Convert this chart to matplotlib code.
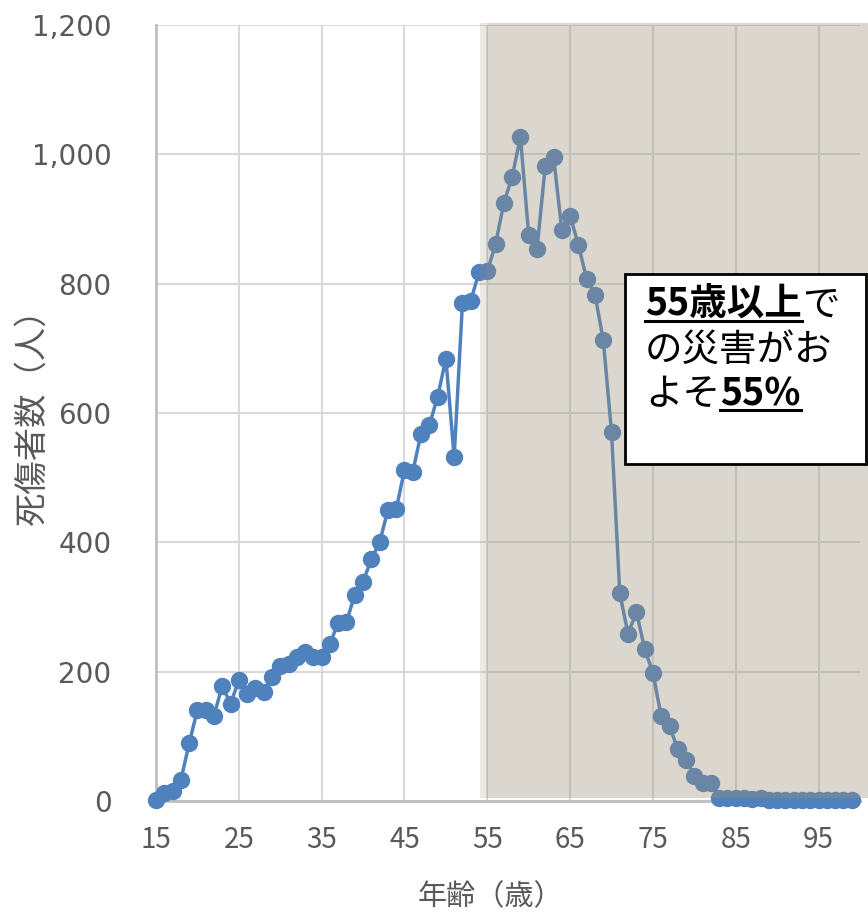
import matplotlib
matplotlib.use('agg')

import matplotlib.pyplot as plt
import matplotlib.patches as mpatches
from matplotlib.lines import Line2D
import numpy as np

plt.rcParams['font.family'] = ['Noto Sans CJK JP', 'DejaVu Sans']

# data: casualties by age (15..99)
ages = np.arange(15, 100)
casualties = [
    2, 12, 16, 32, 89, 141, 140, 132, 178, 150,
    187, 165, 174, 169, 191, 208, 212, 223, 231, 222,
    222, 243, 276, 277, 319, 339, 374, 400, 450, 451,
    512, 509, 568, 581, 625, 684, 532, 770, 773, 818,
    819, 861, 925, 965, 1027, 875, 853, 982, 996, 883,
    905, 860, 807, 783, 713, 570, 321, 258, 293, 235,
    198, 131, 116, 80, 63, 39, 28, 28, 5, 5,
    5, 4, 3, 4, 2, 2, 2, 1, 1, 1,
    1, 1, 1, 1, 1,
]
xticks = [15, 25, 35, 45, 55, 65, 75, 85, 95]
yticks = [0, 200, 400, 600, 800, 1000, 1200]

W, H = 868, 918
fig = plt.figure(figsize=(W / 100, H / 100), dpi=100)
ax = fig.add_axes([156 / W, (H - 801) / H, (860 - 156) / W, (801 - 25) / H])

ax.plot(ages, casualties, color='#4f81bd', linewidth=2.5, marker='o',
        markersize=11.5, zorder=3, clip_on=False)

ax.set_xlim(15, 100)
ax.set_ylim(0, 1200)
ax.set_xticks(xticks)
ax.set_yticks(yticks)
ax.set_yticklabels([f"{v:,}" for v in yticks], family='DejaVu Sans')
ax.tick_params(axis='y', length=0, pad=32, labelsize=20, labelcolor='#595959')
ax.tick_params(axis='x', length=0, pad=17, labelsize=20, labelcolor='#595959')

ax.grid(True, color='#d9d9d9', linewidth=1.5)
ax.set_axisbelow(True)
for side in ['top', 'right']:
    ax.spines[side].set_visible(False)
for side in ['left', 'bottom']:
    ax.spines[side].set_color('#bfbfbf')
    ax.spines[side].set_linewidth(2)

fig.text(32 / W, 1 - 409 / H, "死傷者数（人）", rotation=90, ha='center', va='center',
         fontsize=24, color='#595959')
fig.text(490 / W, 1 - 897 / H, "年齢（歳）", ha='center', va='center',
         fontsize=21, color='#595959')

# shaded region for 55 and over
shade_col = '#9b937a'
fig.patches.append(mpatches.Rectangle((480 / W, (H - 798) / H), (W - 480) / W, (798 - 23) / H,
                                      transform=fig.transFigure, facecolor=shade_col,
                                      alpha=0.2, edgecolor='none', zorder=5))
fig.patches.append(mpatches.Rectangle((487 / W, (H - 798) / H), (W - 487) / W, (798 - 23) / H,
                                      transform=fig.transFigure, facecolor=shade_col,
                                      alpha=0.2, edgecolor='none', zorder=5))

# annotation box
fig.patches.append(mpatches.Rectangle((625 / W, (H - 464) / H), (866 - 625) / W, (464 - 274) / H,
                                      transform=fig.transFigure, facecolor='white',
                                      edgecolor='black', linewidth=2, zorder=6))

renderer = fig.canvas.get_renderer()
fs = 27


def put(x_px, base_px, s, bold=False, underline=False):
    t = fig.text(x_px / W, 1 - base_px / H, s, fontsize=fs, color='black',
                 weight='bold' if bold else 'normal', va='baseline', ha='left', zorder=7)
    bb = t.get_window_extent(renderer)
    if underline:
        y = 1 - (base_px + 5) / H
        fig.lines.append(Line2D([x_px / W, (x_px + bb.width) / W], [y, y],
                                transform=fig.transFigure, color='black',
                                linewidth=2.2, zorder=7))
    return x_px + bb.width


x = put(645, 316, "55歳以上", bold=True, underline=True)
put(x, 316, "で")
put(645, 361, "の災害がお")
x = put(645, 405, "よそ")
put(x, 405, "55%", bold=True, underline=True)

fig.savefig('out.png', dpi=100)
